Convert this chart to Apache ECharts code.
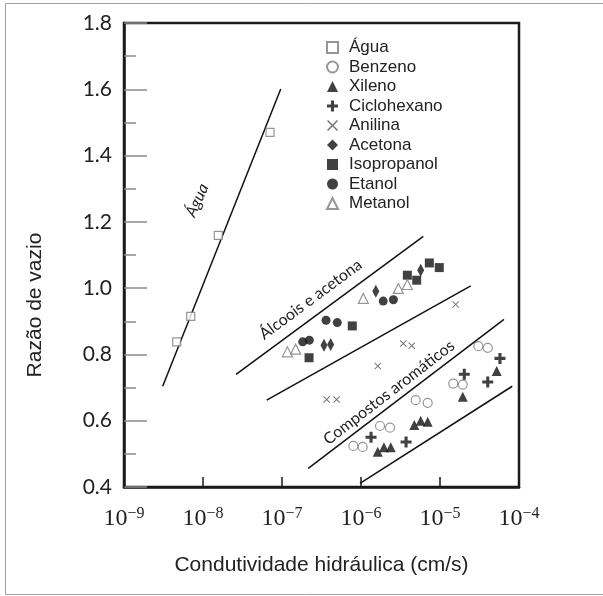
<!DOCTYPE html>
<html>
<head>
<meta charset="utf-8">
<script src="https://cdn.jsdelivr.net/npm/echarts@6/dist/echarts.min.js"></script>
<style>
  html, body { margin: 0; padding: 0; background: #fff; }
  #chart { width: 603px; height: 596px; }
</style>
</head>
<body>
<div id="chart"></div>
<script>
// Razão de vazio x condutividade hidráulica para diferentes fluidos percolantes

const seriesNames = ['Água', 'Benzeno', 'Xileno', 'Ciclohexano', 'Anilina', 'Acetona', 'Isopropanol', 'Etanol', 'Metanol'];

// condutividade hidráulica (cm/s) e razão de vazio de cada ensaio
const aguaK = [4.65e-9, 6.98e-9, 1.56e-8, 7.05e-8];
const aguaE = [0.838, 0.915, 1.159, 1.470];

const benzenoK = [8.0e-7, 1.05e-6, 1.74e-6, 2.33e-6, 4.92e-6, 6.98e-6, 1.47e-5, 1.94e-5, 3.06e-5, 4.02e-5];
const benzenoE = [0.524, 0.521, 0.584, 0.579, 0.662, 0.654, 0.712, 0.709, 0.825, 0.820];

const xilenoK = [1.63e-6, 1.95e-6, 2.38e-6, 4.73e-6, 5.70e-6, 6.98e-6, 1.94e-5, 5.22e-5];
const xilenoE = [0.506, 0.520, 0.520, 0.587, 0.600, 0.597, 0.672, 0.750];

const ciclohexanoK = [1.34e-6, 3.72e-6, 2.03e-5, 4.02e-5, 5.74e-5];
const ciclohexanoE = [0.550, 0.536, 0.740, 0.717, 0.788];

const anilinaK = [3.68e-7, 4.92e-7, 1.63e-6, 3.43e-6, 4.39e-6, 1.58e-5];
const anilinaE = [0.664, 0.664, 0.765, 0.833, 0.826, 0.951];

const acetonaK = [3.40e-7, 4.13e-7, 1.54e-6, 5.70e-6];
const acetonaE = [0.828, 0.830, 0.991, 1.054];

const isopropanolK = [2.20e-7, 7.76e-7, 3.86e-6, 5.07e-6, 7.33e-6, 9.79e-6];
const isopropanolE = [0.790, 0.886, 1.039, 1.024, 1.076, 1.062];

const etanolK = [1.83e-7, 2.22e-7, 3.61e-7, 5.01e-7, 1.91e-6, 2.57e-6];
const etanolE = [0.838, 0.843, 0.903, 0.896, 0.961, 0.965];

const metanolK = [1.17e-7, 1.49e-7, 1.07e-6, 2.97e-6, 3.86e-6];
const metanolE = [0.808, 0.816, 0.969, 0.999, 1.011];

// retas de tendência (extremos em K, e)
const retaAgua = [[3.09e-9, 0.704], [9.64e-8, 1.601]];
const retaAlcoolSup = [[2.62e-8, 0.740], [6.15e-6, 1.156]];
const retaAlcoolInf = [[6.40e-8, 0.662], [2.45e-5, 1.007]];
const retaAromSup = [[2.15e-7, 0.456], [6.46e-5, 0.906]];
const retaAromInf = [[9.70e-7, 0.411], [8.22e-5, 0.704]];

// rótulos das faixas: texto, ponto central (K, e), inclinação em graus
const rotulos = [
  { text: 'Água', at: [8.4e-9, 1.265], angle: 65, italic: true },
  { text: 'Álcoois e acetona', at: [2.30e-7, 0.966], angle: 36.5, italic: false },
  { text: 'Compostos aromáticos', at: [2.26e-6, 0.685], angle: 37.5, italic: false }
];

const yTicks = { min: 0.4, max: 1.8, step: 0.2 };

const grey = '#7c7c7c';
const ink = '#111';
const pairs = (k, e) => k.map((v, i) => [v, e[i]]);

const plusPath = 'path://M3.6,0 L6.4,0 L6.4,3.6 L10,3.6 L10,6.4 L6.4,6.4 L6.4,10 L3.6,10 L3.6,6.4 L0,6.4 L0,3.6 L3.6,3.6 Z';
const crossPath = 'path://M0,1 L1,0 L5,4 L9,0 L10,1 L6,5 L10,9 L9,10 L5,6 L1,10 L0,9 L4,5 Z';

const markerSeries = [
  { name: 'Água', data: pairs(aguaK, aguaE), symbol: 'rect', symbolSize: 8,
    itemStyle: { color: '#fff', borderColor: grey, borderWidth: 1.2 } },
  { name: 'Benzeno', data: pairs(benzenoK, benzenoE), symbol: 'circle', symbolSize: 9,
    itemStyle: { color: '#fff', borderColor: grey, borderWidth: 1.2 } },
  { name: 'Xileno', data: pairs(xilenoK, xilenoE), symbol: 'triangle', symbolSize: 10,
    itemStyle: { color: ink } },
  { name: 'Ciclohexano', data: pairs(ciclohexanoK, ciclohexanoE), symbol: plusPath, symbolSize: 11,
    itemStyle: { color: ink } },
  { name: 'Anilina', data: pairs(anilinaK, anilinaE), symbol: crossPath, symbolSize: 7,
    itemStyle: { color: '#555' } },
  { name: 'Acetona', data: pairs(acetonaK, acetonaE), symbol: 'diamond', symbolSize: [7, 13],
    itemStyle: { color: ink } },
  { name: 'Isopropanol', data: pairs(isopropanolK, isopropanolE), symbol: 'rect', symbolSize: 9,
    itemStyle: { color: ink } },
  { name: 'Etanol', data: pairs(etanolK, etanolE), symbol: 'circle', symbolSize: 9,
    itemStyle: { color: ink } },
  { name: 'Metanol', data: pairs(metanolK, metanolE), symbol: 'triangle', symbolSize: 10,
    itemStyle: { color: '#fff', borderColor: grey, borderWidth: 1.2 } }
].map(s => Object.assign({ type: 'scatter', z: 5 }, s));

const lineSeries = [retaAgua, retaAlcoolSup, retaAlcoolInf, retaAromSup, retaAromInf].map(d => ({
  type: 'line',
  data: d,
  showSymbol: false,
  silent: true,
  z: 3,
  lineStyle: { color: ink, width: 1.5 }
}));

const chart = echarts.init(document.getElementById('chart'), null, { renderer: 'canvas' });

chart.setOption({
  animation: false,
  backgroundColor: '#fff',
  grid: {
    left: 124, top: 23, right: 84, bottom: 109,
    show: true, borderColor: '#1a1a1a', borderWidth: 2.5, backgroundColor: 'transparent'
  },
  legend: {
    data: seriesNames,
    orient: 'vertical',
    left: 321,
    top: 34,
    itemWidth: 11,
    itemHeight: 11,
    itemGap: 2.5,
    textStyle: { fontFamily: 'Liberation Sans', fontSize: 17, color: '#222', lineHeight: 17, padding: [0, 0, 0, 6] }
  },
  xAxis: {
    type: 'log',
    logBase: 10,
    min: 1e-9,
    max: 1e-4,
    name: 'Condutividade hidráulica (cm/s)',
    nameLocation: 'middle',
    nameGap: 68,
    nameTextStyle: { fontFamily: 'Liberation Sans', fontSize: 21, color: '#222' },
    axisLine: { lineStyle: { color: '#1a1a1a', width: 2.5 } },
    axisTick: { inside: true, length: 10, lineStyle: { color: '#1a1a1a', width: 1.5 } },
    splitLine: { show: false },
    axisLabel: {
      margin: 19,
      formatter: v => '{b|10}{s|−' + Math.round(-Math.log10(v)) + '}',
      rich: {
        b: { fontFamily: 'Liberation Serif', fontSize: 24, color: '#222', lineHeight: 26 },
        s: { fontFamily: 'Liberation Serif', fontSize: 16, color: '#222', lineHeight: 16, verticalAlign: 'top' }
      }
    }
  },
  yAxis: {
    type: 'value',
    min: yTicks.min,
    max: yTicks.max,
    interval: yTicks.step,
    axisLine: { show: true, lineStyle: { color: '#1a1a1a', width: 2.5 } },
    axisTick: { show: true, inside: true, length: 23, lineStyle: { color: '#8a8a8a', width: 1.5 } },
    minorTick: { show: true, splitNumber: 2, length: 12, lineStyle: { color: '#8a8a8a', width: 1.5 } },
    splitLine: { show: false },
    axisLabel: {
      margin: 12,
      fontFamily: 'Lato',
      fontSize: 21,
      color: '#222',
      formatter: v => v.toFixed(1)
    }
  },
  series: lineSeries.concat(markerSeries)
});

// rótulos das faixas posicionados em coordenadas de dados
const textos = rotulos.map(r => {
  const p = chart.convertToPixel({ gridIndex: 0 }, r.at);
  return {
    type: 'text',
    x: p[0],
    y: p[1],
    rotation: r.angle * Math.PI / 180,
    silent: true,
    z: 10,
    style: {
      text: r.text,
      font: (r.italic ? 'italic ' : '') + '16px Lato',
      fill: '#222',
      align: 'center',
      verticalAlign: 'middle'
    }
  };
});

chart.setOption({
  graphic: [
    {
      type: 'rect',
      silent: true,
      z: -1,
      shape: { x: 5.5, y: 3.5, width: 640, height: 591 },
      style: { fill: 'none', stroke: '#a0a0a0', lineWidth: 1 }
    },
    {
      type: 'text',
      x: 35,
      y: 305,
      rotation: Math.PI / 2,
      silent: true,
      style: {
        text: 'Razão de vazio',
        font: '21px "Liberation Sans"',
        fill: '#222',
        align: 'center',
        verticalAlign: 'middle'
      }
    }
  ].concat(textos)
});
</script>
</body>
</html>
